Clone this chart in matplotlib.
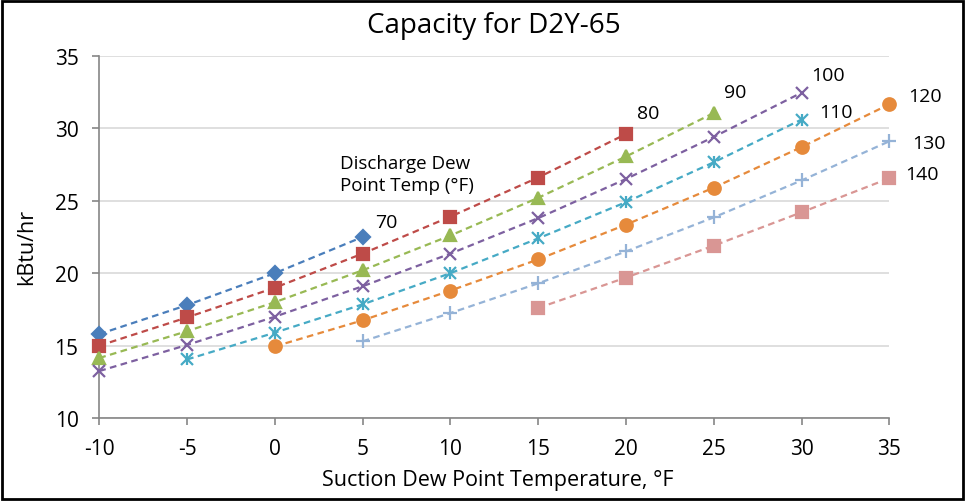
import matplotlib
matplotlib.use("Agg")
import matplotlib.pyplot as plt
from matplotlib.patches import Rectangle

plt.rcParams['font.family'] = ['Open Sans', 'DejaVu Sans']
plt.rcParams['axes.unicode_minus'] = False

# suction dew point temperature (F) for each discharge curve
x_70 = [-10, -5, 0, 5]
x_80 = [-10, -5, 0, 5, 10, 15, 20]
x_90 = [-10, -5, 0, 5, 10, 15, 20, 25]
x_100 = [-10, -5, 0, 5, 10, 15, 20, 25, 30]
x_110 = [-5, 0, 5, 10, 15, 20, 25, 30]
x_120 = [0, 5, 10, 15, 20, 25, 30, 35]
x_130 = [5, 10, 15, 20, 25, 30, 35]
x_140 = [15, 20, 25, 30, 35]

# capacity in kBtu/hr
cap_70 = [15.8, 17.8, 20.0, 22.5]
cap_80 = [15.0, 16.95, 19.0, 21.35, 23.9, 26.6, 29.6]
cap_90 = [14.15, 16.0, 18.0, 20.2, 22.6, 25.2, 28.05, 31.05]
cap_100 = [13.25, 15.05, 17.0, 19.1, 21.35, 23.8, 26.5, 29.4, 32.45]
cap_110 = [14.05, 15.9, 17.85, 20.0, 22.4, 24.9, 27.65, 30.6]
cap_120 = [14.95, 16.75, 18.8, 20.95, 23.35, 25.9, 28.7, 31.65]
cap_130 = [15.3, 17.25, 19.3, 21.5, 23.85, 26.4, 29.1]
cap_140 = [17.6, 19.7, 21.9, 24.2, 26.55]

labels = ['70', '80', '90', '100', '110', '120', '130', '140']
x_ticks = [-10, -5, 0, 5, 10, 15, 20, 25, 30, 35]
y_ticks = [10, 15, 20, 25, 30, 35]


def main():
    fig = plt.figure(figsize=(9.67, 5.02), dpi=100)
    ax = fig.add_axes([0.1027, 0.165, 0.817, 0.722])

    series = [
        (x_70, cap_70, '#4A7EBB', 'D', 7),
        (x_80, cap_80, '#BE4B48', 's', 8.5),
        (x_90, cap_90, '#98B954', '^', 9),
        (x_100, cap_100, '#7D60A0', 'x', 8),
        (x_110, cap_110, '#46AAC5', 'x', 8),
        (x_120, cap_120, '#E68A3B', 'o', 9),
        (x_130, cap_130, '#95B3D7', '+', 10),
        (x_140, cap_140, '#D99694', 's', 8.5),
    ]
    for xs, ys, color, marker, ms in series:
        ax.plot(xs, ys, color=color, linestyle=(0, (3, 2)), linewidth=1.6,
                marker=marker, markersize=ms, markeredgewidth=1.6,
                markeredgecolor=color, markerfacecolor=color, zorder=3,
                clip_on=False)
    # star marker for the 110 curve: add the vertical stroke
    ax.plot(x_110, cap_110, linestyle='none', marker='|', markersize=9,
            markeredgewidth=1.6, color='#46AAC5', zorder=3, clip_on=False)

    # curve labels
    label_pos = [(5.7, 23.5), (20.6, 31.05), (25.6, 32.5), (30.55, 33.65),
                 (31.0, 31.15), (36.05, 32.2), (36.3, 29.0), (35.9, 26.85)]
    for text, (lx, ly) in zip(labels, label_pos):
        ax.text(lx, ly, text, fontsize=14, ha='left', va='center',
                clip_on=False)
    ax.text(3.7, 26.85, 'Discharge Dew\nPoint Temp (\u00b0F)', fontsize=13.5,
            ha='left', va='center', linespacing=1.25)

    ax.set_xlim(-10, 35)
    ax.set_ylim(10, 35)
    ax.set_xticks(x_ticks)
    ax.set_yticks(y_ticks)
    ax.tick_params(axis='both', direction='out', length=5, width=1.2,
                   color='#868686', labelsize=15)
    ax.tick_params(axis='x', pad=9)
    ax.tick_params(axis='y', pad=10)
    ax.grid(axis='y', color='#D9D9D9', linewidth=1.2)
    ax.set_axisbelow(True)
    for side in ['top', 'right']:
        ax.spines[side].set_visible(False)
    for side in ['left', 'bottom']:
        ax.spines[side].set_color('#868686')
        ax.spines[side].set_linewidth(1.2)

    fig.text(0.511, 0.948, 'Capacity for D2Y-65', fontsize=20,
             ha='center', va='center')
    fig.text(0.515, 0.042, 'Suction Dew Point Temperature, \u00b0F',
             fontsize=15.5, ha='center', va='center')
    fig.text(0.028, 0.508, 'kBtu/hr', fontsize=15.5, rotation=90,
             ha='center', va='center')

    # black frame round the whole picture
    fig.patches.append(Rectangle((0.002, 0.004), 0.994, 0.993,
                                 transform=fig.transFigure, fill=False,
                                 edgecolor='black', linewidth=2))

    fig.savefig('out.png', dpi=100)


if __name__ == "__main__":
    main()
